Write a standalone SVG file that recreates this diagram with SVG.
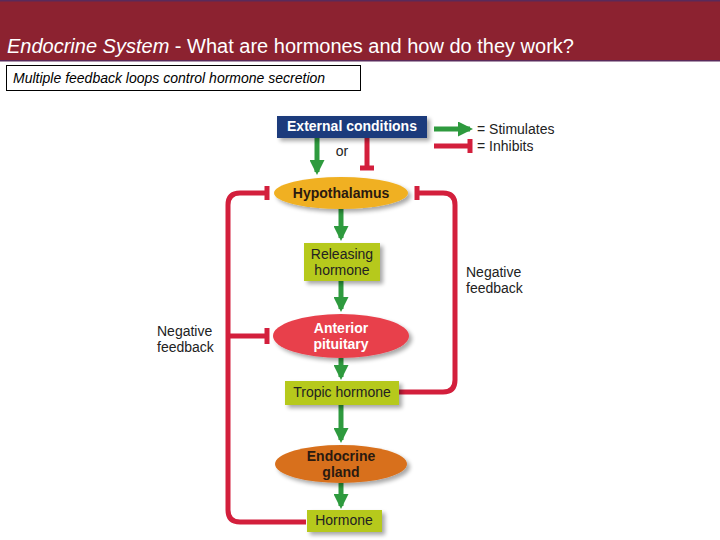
<svg xmlns="http://www.w3.org/2000/svg" width="720" height="540" viewBox="0 0 720 540">
<defs>
<style>
.hdr{font-family:"Liberation Sans",Arial,sans-serif;font-size:20px;fill:#fff}
.sub{font-family:"Liberation Sans",Arial,sans-serif;font-size:14px;font-style:italic;fill:#000}
.lbl{font-family:"Liberation Sans",Arial,sans-serif;font-size:14px;fill:#222}
.bold{font-family:"Liberation Sans",Arial,sans-serif;font-size:14px;font-weight:bold;fill:#2a1a10}
.wb{font-family:"Liberation Sans",Arial,sans-serif;font-size:14px;font-weight:bold;fill:#fff}
.red{stroke:#d31f3c;stroke-width:5;fill:none}
.grn{stroke:#2e9a3e;stroke-width:5;fill:none}
.box{fill:#b6c91c}
</style>
<marker id="ah" viewBox="0 0 10 10" refX="8" refY="5" markerWidth="3" markerHeight="3" orient="auto" markerUnits="strokeWidth">
<path d="M0,0 L10,5 L0,10 Z" fill="#2e9a3e"/>
</marker>
<filter id="sh" x="-20%" y="-20%" width="150%" height="160%">
<feGaussianBlur in="SourceAlpha" stdDeviation="2"/>
<feOffset dx="3" dy="3"/>
<feComponentTransfer><feFuncA type="linear" slope="0.35"/></feComponentTransfer>
<feMerge><feMergeNode/><feMergeNode in="SourceGraphic"/></feMerge>
</filter>
</defs>
<rect width="720" height="540" fill="#fff"/>
<g id="header">
<rect x="0" y="0" width="720" height="61" fill="#8c2230"/>
<rect x="0" y="0" width="720" height="1.5" fill="#5a2a5a"/>
<rect x="0" y="60" width="720" height="1.5" fill="#5a2a5a"/>
<text class="hdr" x="7" y="53"><tspan font-style="italic">Endocrine System</tspan> - What are hormones and how do they work?</text>
</g>
<g id="subtitle">
<rect x="6.5" y="65.5" width="354" height="25" fill="#fff" stroke="#000" stroke-width="1"/>
<text class="sub" x="13" y="83">Multiple feedback loops control hormone secretion</text>
</g>
<g id="connectors">
<path class="grn" d="M317,138 V172" marker-end="url(#ah)"/>
<path class="red" d="M367,138 V168"/>
<path class="red" d="M360,168 H374"/>
<path class="grn" d="M341,209 V238" marker-end="url(#ah)"/>
<path class="grn" d="M341,281 V309" marker-end="url(#ah)"/>
<path class="grn" d="M341,358 V377" marker-end="url(#ah)"/>
<path class="grn" d="M341,405 V440" marker-end="url(#ah)"/>
<path class="grn" d="M341,483 V506" marker-end="url(#ah)"/>
<path class="red" d="M306,522 H240 Q228,522 228,510 V205 Q228,193 240,193 H267"/>
<path class="red" d="M267,186 V200"/>
<path class="red" d="M228,336 H267"/>
<path class="red" d="M267,328 V344"/>
<path class="red" d="M398,392 H443 Q455,392 455,380 V205 Q455,193 443,193 H417"/>
<path class="red" d="M417,186 V200"/>
</g>
<g id="legend">
<path class="grn" d="M434,129 H470" marker-end="url(#ah)"/>
<text class="lbl" x="477" y="134">= Stimulates</text>
<path class="red" d="M434,146 H470"/>
<path class="red" d="M470,139 V153"/>
<text class="lbl" x="477" y="151">= Inhibits</text>
</g>
<g id="external">
<rect x="277" y="116" width="150" height="22" fill="#1d3a7c" filter="url(#sh)"/>
<text class="wb" x="352" y="131" text-anchor="middle">External conditions</text>
<text class="lbl" x="342" y="156" text-anchor="middle">or</text>
</g>
<g id="hypothalamus">
<ellipse cx="341" cy="193" rx="67" ry="16" fill="#f0b021" filter="url(#sh)"/>
<text class="bold" x="341" y="198" text-anchor="middle">Hypothalamus</text>
</g>
<g id="releasing">
<rect class="box" x="304" y="243" width="76" height="38" filter="url(#sh)"/>
<text class="lbl" x="342" y="259" text-anchor="middle">Releasing</text>
<text class="lbl" x="342" y="275" text-anchor="middle">hormone</text>
</g>
<g id="pituitary">
<ellipse cx="341" cy="336" rx="68" ry="22" fill="#e8404c" filter="url(#sh)"/>
<text class="wb" x="341" y="333" text-anchor="middle">Anterior</text>
<text class="wb" x="341" y="349" text-anchor="middle">pituitary</text>
</g>
<g id="tropic">
<rect class="box" x="285" y="381" width="114" height="24" filter="url(#sh)"/>
<text class="lbl" x="342" y="397" text-anchor="middle">Tropic hormone</text>
</g>
<g id="endocrine">
<ellipse cx="341" cy="464" rx="66" ry="19" fill="#d8701c" filter="url(#sh)"/>
<text class="bold" x="341" y="461" text-anchor="middle">Endocrine</text>
<text class="bold" x="341" y="477" text-anchor="middle">gland</text>
</g>
<g id="hormone">
<rect class="box" x="307" y="510" width="75" height="22" filter="url(#sh)"/>
<text class="lbl" x="344" y="525" text-anchor="middle">Hormone</text>
</g>
<g id="labels">
<text class="lbl" x="466" y="277">Negative</text>
<text class="lbl" x="466" y="293">feedback</text>
<text class="lbl" x="157" y="336">Negative</text>
<text class="lbl" x="157" y="352">feedback</text>
</g>
</svg>
